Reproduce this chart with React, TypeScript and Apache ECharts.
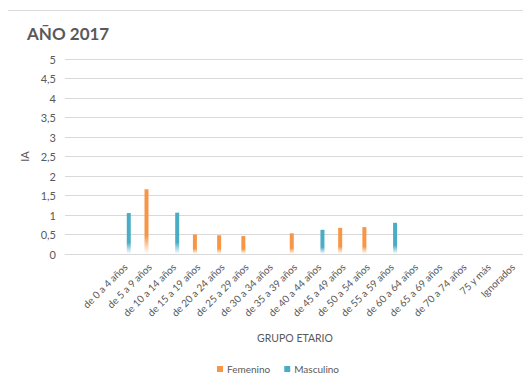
import React, { useEffect, useRef } from "react";
import * as echarts from "echarts";

// Age groups (two leading unlabeled slots precede the first group)
const categories = [
  "",
  "",
  "de 0 a 4 años",
  "de 5 a 9 años",
  "de 10 a 14 años",
  "de 15 a 19 años",
  "de 20 a 24 años",
  "de 25 a 29 años",
  "de 30 a 34 años",
  "de 35 a 39 años",
  "de 40 a 44 años",
  "de 45 a 49 años",
  "de 50 a 54 años",
  "de 55 a 59 años",
  "de 60 a 64 años",
  "de 65 a 69 años",
  "de 70 a 74 años",
  "75 y más",
  "Ignorados",
];

const femenino = [null, null, null, 1.66, null, 0.5, 0.48, 0.46, null, 0.53, null, 0.67, 0.69, null, null, null, null, null, null];
const masculino = [null, null, 1.05, null, 1.06, null, null, null, null, null, 0.62, null, null, 0.8, null, null, null, null, null];

const yTicks = [0, 0.5, 1, 1.5, 2, 2.5, 3, 3.5, 4, 4.5, 5];

const FONT = "Lato, 'Open Sans', sans-serif";
const TEXT = "#595959";

const fade = (c: string) =>
  new echarts.graphic.LinearGradient(0, 0, 0, 1, [
    { offset: 0, color: c },
    { offset: 0.72, color: c },
    { offset: 1, color: "rgba(255,255,255,0.9)" },
  ]);

export default function App() {
  const ref = useRef<HTMLDivElement>(null);

  useEffect(() => {
    if (!ref.current) return;
    const chart = echarts.init(ref.current, undefined, { renderer: "svg" });
    chart.setOption({
      animation: false,
      backgroundColor: "#ffffff",
      textStyle: { fontFamily: FONT, color: TEXT },
      graphic: [
        {
          type: "rect",
          shape: { x: 7.5, y: 10.5, width: 600, height: 500 },
          style: { fill: "none", stroke: "#d9d9d9", lineWidth: 1 },
          silent: true,
        },
        {
          type: "text",
          left: 27,
          top: 25,
          style: {
            text: "AÑO 2017",
            font: `bold 17px ${FONT}`,
            fill: TEXT,
          },
        },
      ],
      legend: {
        bottom: 7,
        left: 212,
        itemWidth: 6,
        itemHeight: 6,
        itemGap: 14,
        icon: "rect",
        textStyle: { fontFamily: FONT, fontSize: 10, color: TEXT, padding: [0, 0, 0, -1] },
        data: [
          { name: "Femenino", itemStyle: { color: "#f79646" } },
          { name: "Masculino", itemStyle: { color: "#4bacc6" } },
        ],
      },
      grid: { left: 65, right: 6, top: 59, bottom: 132 },
      xAxis: {
        type: "category",
        data: categories,
        name: "GRUPO ETARIO",
        nameLocation: "middle",
        nameGap: 78,
        nameTextStyle: { fontFamily: FONT, fontSize: 10.5, color: TEXT },
        axisLine: { lineStyle: { color: "#d9d9d9" } },
        axisTick: { show: false },
        axisLabel: {
          interval: 0,
          rotate: 45,
          margin: 11,
          fontFamily: FONT,
          fontSize: 10,
          color: TEXT,
        },
      },
      yAxis: {
        type: "value",
        min: 0,
        max: 5,
        interval: 0.5,
        name: "IA",
        nameLocation: "middle",
        nameGap: 32,
        nameTextStyle: { fontFamily: FONT, fontSize: 11, color: TEXT },
        axisLine: { show: false },
        axisTick: { show: false },
        splitLine: { lineStyle: { color: "#d9d9d9", width: 1 } },
        axisLabel: {
          margin: 9,
          fontFamily: FONT,
          fontSize: 11,
          color: TEXT,
          formatter: (v: number) =>
            yTicks.includes(v) ? String(v).replace(".", ",") : "",
        },
      },
      series: [
        {
          name: "Femenino",
          type: "bar",
          data: femenino,
          barWidth: 4,
          barGap: "62%",
          itemStyle: { color: fade("#f79646") },
        },
        {
          name: "Masculino",
          type: "bar",
          data: masculino,
          barWidth: 4,
          barGap: "62%",
          itemStyle: { color: fade("#4bacc6") },
        },
      ],
    });
    return () => chart.dispose();
  }, []);

  return <div ref={ref} style={{ width: 531, height: 386, margin: -8 }} />;
}
